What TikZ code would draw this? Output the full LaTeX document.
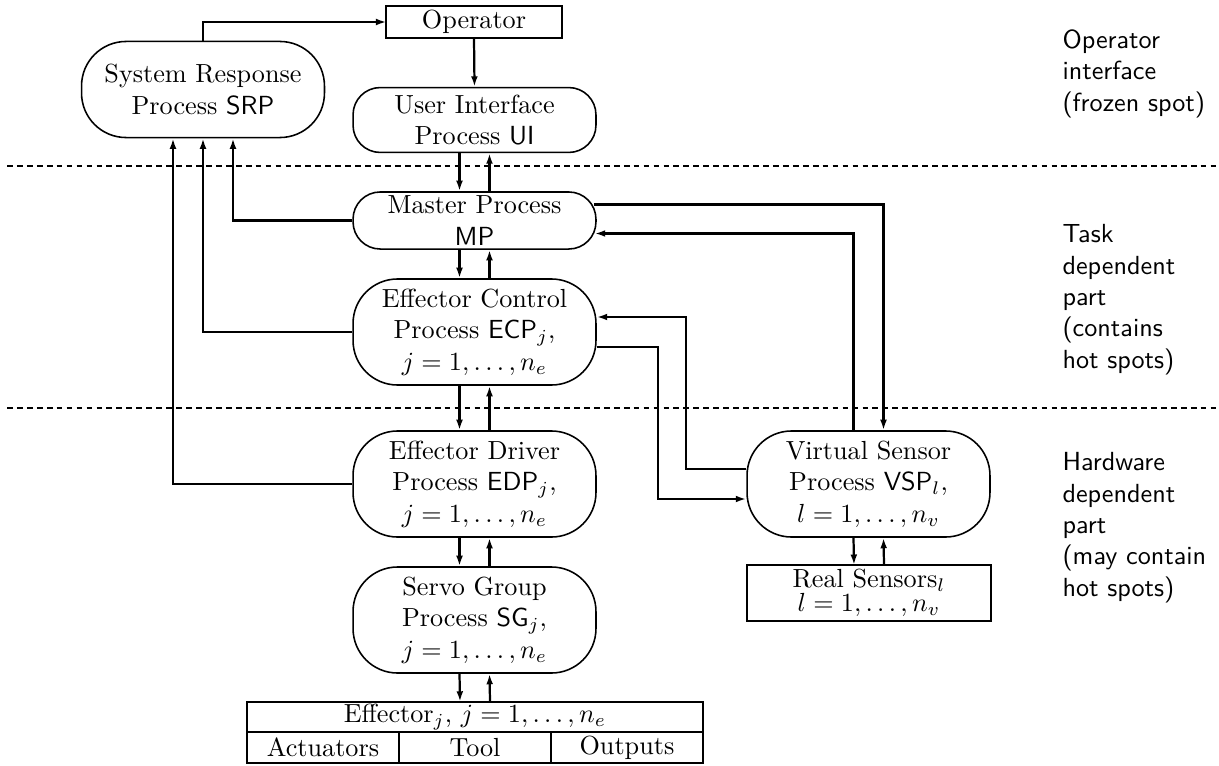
\documentclass[tikz,border=0pt]{standalone}
\usetikzlibrary{arrows.meta,calc,positioning}
\tikzset{
  proc/.style={draw, line width=0.6pt, rounded corners=10.4pt, minimum width=92.8pt, inner sep=0pt, align=center},
  tall/.style={rounded corners=17pt},
  blk/.style={draw, line width=0.8pt, inner sep=0pt, outer sep=0pt, align=center},
  flow/.style={line width=0.85pt, -{Latex[length=4pt,width=2.6pt]}},
  sep/.style={line width=0.8pt, dash pattern=on 2.2pt off 1.6pt},
  side/.style={font=\sffamily, align=left, anchor=north west, inner sep=0pt},
}
\begin{document}
\begin{tikzpicture}[x=0.382pt, y=-0.382pt]
	\useasboundingbox (0,0) rectangle (1219,765);
	% layer borders
	\draw[sep] (7,166) -- (1219,166);
	\draw[sep] (7,408) -- (1219,408);
	% processes
	\node[blk, minimum width=66.9pt, minimum height=12.2pt] (op) at (474,22) {Operator};
	\node[proc, tall, minimum height=36.7pt] (srp) at (203,89.5) {System Response\\Process \textsf{SRP}};
	\node[proc, minimum height=24.8pt] (ui) at (474.5,120) {User Interface\\Process \textsf{UI}};
	\node[proc, minimum height=21.8pt] (mp) at (474.5,220.5) {Master Process\\\textsf{MP}};
	\node[proc, tall, minimum height=40.5pt] (ecp) at (474.5,332) {Effector Control\\Process $\mathsf{ECP}_j$,\\$j=1,\ldots,n_e$};
	\node[proc, tall, minimum height=40.5pt] (edp) at (474.5,484) {Effector Driver\\Process $\mathsf{EDP}_j$,\\$j=1,\ldots,n_e$};
	\node[proc, tall, minimum height=40.5pt] (sg) at (474.5,620) {Servo Group\\Process $\mathsf{SG}_j$,\\$j=1,\ldots,n_e$};
	\node[proc, tall, minimum height=40.5pt] (vsp) at (868.5,484) {Virtual Sensor\\Process $\mathsf{VSP}_l$,\\$l=1,\ldots,n_v$};
	\node[blk, minimum width=93.2pt, minimum height=21.4pt] (rs) at (869,593) {Real Sensors$_l$\\[-3pt]$l=1,\ldots,n_v$};
	% effector table
	\node[blk, minimum width=174.2pt, minimum height=11.65pt] (eff) at (475,717) {Effector$_j$, $j=1,\ldots,n_e$};
	\node[blk, minimum width=58.06pt, minimum height=11.65pt, anchor=north west] (act) at (eff.south west) {Actuators};
	\node[blk, minimum width=58.06pt, minimum height=11.65pt, right=0pt of act] (tool) {Tool};
	\node[blk, minimum width=58.06pt, minimum height=11.65pt, right=0pt of tool] (outs) {Outputs};
	% side notes
	\node[side] (opif) at (1062,29) {Operator\\interface\\(frozen spot)};
	\node[side] (task) at (1062,224) {Task\\dependent\\part\\(contains\\hot spots)};
	\node[side] (hw) at (1062,452) {Hardware\\dependent\\part\\(may contain\\hot spots)};
	% main column
	\draw[flow] (srp.north) |- (op.west);
	\draw[flow] (op.south) -- (ui.north);
	\draw[flow] ($(ui.south)+(-15,0)$) -- ($(mp.north)+(-15,0)$);
	\draw[flow] ($(mp.north)+(15,0)$) -- ($(ui.south)+(15,0)$);
	\draw[flow] ($(mp.south)+(-15,0)$) -- ($(ecp.north)+(-15,0)$);
	\draw[flow] ($(ecp.north)+(15,0)$) -- ($(mp.south)+(15,0)$);
	\draw[flow] ($(ecp.south)+(-15,0)$) -- ($(edp.north)+(-15,0)$);
	\draw[flow] ($(edp.north)+(15,0)$) -- ($(ecp.south)+(15,0)$);
	\draw[flow] ($(edp.south)+(-15,0)$) -- ($(sg.north)+(-15,0)$);
	\draw[flow] ($(sg.north)+(15,0)$) -- ($(edp.south)+(15,0)$);
	\draw[flow] ($(sg.south)+(-15,0)$) -- ($(eff.north)+(-15,0)$);
	\draw[flow] ($(eff.north)+(15,0)$) -- ($(sg.south)+(15,0)$);
	\draw[flow] ($(vsp.south)+(-15,0)$) -- ($(rs.north)+(-15,0)$);
	\draw[flow] ($(rs.north)+(15,0)$) -- ($(vsp.south)+(15,0)$);
	% responses to SRP
	\draw[flow] (mp.west) -| ($(srp.south)+(30,0)$);
	\draw[flow] (ecp.west) -| (srp.south);
	\draw[flow] (edp.west) -| ($(srp.south)+(-30,0)$);
	% sensor links
	\draw[flow] ($(mp.east)+(-3,-16)$) -| ($(vsp.north)+(15,0)$);
	\draw[flow] ($(vsp.north)+(-15,0)$) |- ($(mp.east)+(-2,13)$);
	\draw[flow] ($(vsp.west)+(0,-15)$) -- ++(-60,0) |- ($(ecp.east)+(0,-15)$);
	\draw[flow] ($(ecp.east)+(0,15)$) -- ++(61,0) |- ($(vsp.west)+(0,15)$);
\end{tikzpicture}
\end{document}
